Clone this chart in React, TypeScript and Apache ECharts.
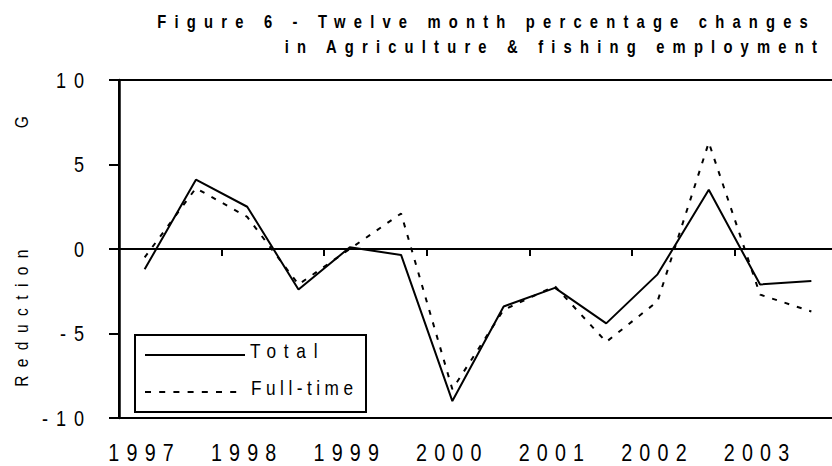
import React, { useEffect, useRef } from 'react';
import * as echarts from 'echarts';

const periods = [
  '1997 H1', '1997 H2', '1998 H1', '1998 H2', '1999 H1', '1999 H2', '2000 H1',
  '2000 H2', '2001 H1', '2001 H2', '2002 H1', '2002 H2', '2003 H1', '2003 H2',
];
const total = [-1.2, 4.1, 2.5, -2.4, 0.1, -0.35, -9.0, -3.4, -2.3, -4.4, -1.5, 3.5, -2.1, -1.9];
const fullTime = [-0.5, 3.6, 1.9, -2.1, 0.0, 2.1, -8.3, -3.6, -2.2, -5.5, -3.1, 6.3, -2.7, -3.7];
const yMin = -10;
const yMax = 10;
const yInterval = 5;
const titleLines = ['Figure 6 - Twelve month percentage changes', 'in Agriculture & fishing employment'];
const seriesNames = ['Total', 'Full-time'];
const axisNames = ['Reduction', 'G'];

const FONT = "'Liberation Sans', Arial, sans-serif";
const CONDENSE = 0.82;

// tracking (px, as seen) for texts drawn by the graphic component (already condensed by scaleX)
const graphicSpacing: Record<string, number> = {
  [titleLines[0]]: 8.2,
  [titleLines[1]]: 8.2,
  [seriesNames[0]]: 7.8,
  [seriesNames[1]]: 4.5,
  [axisNames[0]]: 8.4,
  [axisNames[1]]: 8.4,
};

// Axis labels: condense glyphs and add tracking.
function fitText(t: SVGTextElement, spacing: number) {
  t.removeAttribute('letter-spacing');
  t.removeAttribute('textLength');
  t.removeAttribute('lengthAdjust');
  const n = (t.textContent || '').length;
  if (!n) return;
  const natural = t.getComputedTextLength();
  t.setAttribute('letter-spacing', String(spacing / CONDENSE));
  t.setAttribute('textLength', String(CONDENSE * natural + n * spacing));
  t.setAttribute('lengthAdjust', 'spacingAndGlyphs');
}

function applySpacing(root: HTMLElement) {
  const texts = root.querySelectorAll('text');
  texts.forEach((t) => {
    const s = (t.textContent || '').trim();
    if (s in graphicSpacing) {
      t.setAttribute('letter-spacing', String(graphicSpacing[s] / CONDENSE));
      return;
    }
    const isYear = /^\d{4}$/.test(s);
    fitText(t as SVGTextElement, isYear ? 7.2 : 8);
  });
}

export default function App() {
  const ref = useRef<HTMLDivElement>(null);
  useEffect(() => {
    const el = ref.current!;
    const chart = echarts.init(el, undefined, { renderer: 'svg' });
    const txt = (extra: any) => ({ fill: '#000', fontFamily: FONT, ...extra });
    const option: any = {
      animation: false,
      backgroundColor: '#fff',
      grid: {
        left: 119, right: -5, top: 80, bottom: 48,
        show: true, borderColor: '#000', borderWidth: 2, backgroundColor: 'transparent',
        containLabel: false, outerBoundsMode: 'none',
      },
      xAxis: [
        {
          type: 'category', data: periods, boundaryGap: true, position: 'bottom',
          axisLine: { show: true, onZero: true, lineStyle: { color: '#000', width: 2 } },
          axisTick: { show: true, interval: 1, length: 7, lineStyle: { color: '#000', width: 2 } },
          axisLabel: { show: false },
          splitLine: { show: false },
        },
        {
          type: 'category', data: periods, boundaryGap: true, position: 'bottom',
          axisLine: { show: false, onZero: false },
          axisTick: { show: false },
          axisLabel: {
            show: true, interval: 1, margin: 22, color: '#000', fontSize: 24, fontFamily: FONT,
            formatter: (v: string) => v.slice(0, 4),
          },
          splitLine: { show: false },
        },
      ],
      yAxis: {
        type: 'value', min: yMin, max: yMax, interval: yInterval,
        axisLine: { show: true, onZero: false, lineStyle: { color: '#000', width: 2.5 } },
        axisTick: { show: true, length: 10, inside: false, lineStyle: { color: '#000', width: 2 } },
        axisLabel: { margin: 27, color: '#000', fontSize: 22, fontFamily: FONT },
        splitLine: { show: false },
      },
      series: [
        {
          name: seriesNames[1], type: 'line', data: fullTime, symbol: 'none', xAxisIndex: 0,
          lineStyle: { color: '#000', width: 2, type: [5, 8] },
        },
        {
          name: seriesNames[0], type: 'line', data: total, symbol: 'none', xAxisIndex: 0,
          lineStyle: { color: '#000', width: 2 },
        },
      ],
      graphic: [
        {
          type: 'text', x: 816, y: 21.5, scaleX: CONDENSE,
          style: txt({ text: titleLines[0], fontSize: 18, fontWeight: 'bold', align: 'right', verticalAlign: 'middle', textAlign: 'right', textVerticalAlign: 'middle' }),
        },
        {
          type: 'text', x: 825, y: 46, scaleX: CONDENSE,
          style: txt({ text: titleLines[1], fontSize: 18, fontWeight: 'bold', align: 'right', verticalAlign: 'middle', textAlign: 'right', textVerticalAlign: 'middle' }),
        },
        {
          type: 'text', x: 21, y: 314, rotation: Math.PI / 2, scaleX: CONDENSE,
          style: txt({ text: axisNames[0], fontSize: 19, align: 'center', verticalAlign: 'middle', textAlign: 'center', textVerticalAlign: 'middle' }),
        },
        {
          type: 'text', x: 21, y: 118, rotation: Math.PI / 2, scaleX: CONDENSE,
          style: txt({ text: axisNames[1], fontSize: 19, align: 'center', verticalAlign: 'middle', textAlign: 'center', textVerticalAlign: 'middle' }),
        },
        {
          type: 'rect', shape: { x: 135, y: 335, width: 231, height: 77 },
          style: { fill: '#fff', stroke: '#000', lineWidth: 2 },
        },
        {
          type: 'line', shape: { x1: 145, y1: 355, x2: 245, y2: 355 },
          style: { stroke: '#000', lineWidth: 2 },
        },
        {
          type: 'line', shape: { x1: 145, y1: 392, x2: 243, y2: 392 },
          style: { stroke: '#000', lineWidth: 2, lineDash: [6, 8.2] },
        },
        {
          type: 'text', x: 250, y: 350.5, scaleX: CONDENSE,
          style: txt({ text: seriesNames[0], fontSize: 21, align: 'left', verticalAlign: 'middle', textAlign: 'left', textVerticalAlign: 'middle' }),
        },
        {
          type: 'text', x: 251, y: 387.5, scaleX: CONDENSE,
          style: txt({ text: seriesNames[1], fontSize: 21, align: 'left', verticalAlign: 'middle', textAlign: 'left', textVerticalAlign: 'middle' }),
        },
      ],
    };
    chart.on('rendered', () => applySpacing(el));
    chart.setOption(option);
    applySpacing(el);
    return () => {
      chart.dispose();
    };
  }, []);
  return (
    <div
      ref={ref}
      style={{ position: 'fixed', left: 0, top: 0, width: 832, height: 466, background: '#fff' }}
    />
  );
}
